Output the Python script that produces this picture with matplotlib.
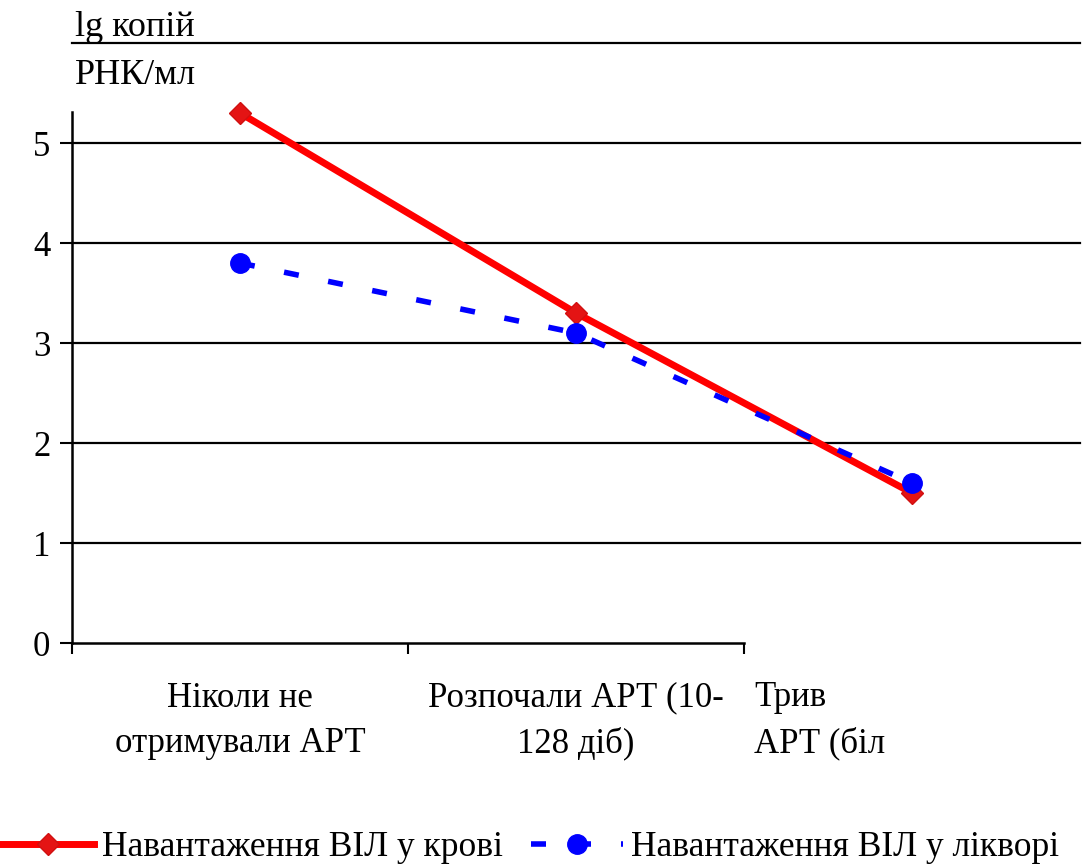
import matplotlib
matplotlib.use("Agg")
import matplotlib.pyplot as plt
from matplotlib.lines import Line2D

plt.rcParams['font.family'] = ['Liberation Serif', 'DejaVu Serif']

# data
categories = ["Ніколи не\nотримували АРТ", "Розпочали АРТ (10-\n128 діб)", "Трив\nАРТ (біл"]
blood = [5.3, 3.3, 1.5]
csf = [3.8, 3.1, 1.6]
yticks = [0, 1, 2, 3, 4, 5]
series_names = ["Навантаження ВІЛ у крові", "Навантаження ВІЛ у лікворі"]
ytitle = ["lg копій", "РНК/мл"]

W, H = 1092, 866
FS = 25
fig = plt.figure(figsize=(W / 100, H / 100), dpi=100)
ax = fig.add_axes([72 / W, 1 - 643 / H, (1080 - 72) / W, 600 / H])

x = list(range(len(categories)))
ax.set_xlim(-0.5, 2.5)
ax.set_ylim(0, 6)

# gridlines (incl. the one at 6 that underlines the title)
for g in [1, 2, 3, 4, 5, 6]:
    ax.axhline(g, color="black", lw=1.6, zorder=1, clip_on=False)

dash = (0, (2.7, 5.4))
ax.plot(x, blood, color="#ff0000", lw=5, marker="D", ms=11,
        mfc="#e41414", mec="#d01010", zorder=3, solid_capstyle="butt")
ax.plot(x, csf, color="#0000ff", lw=4, ls=dash, marker="o", ms=14,
        mfc="#0000ff", mec="#0000ff", zorder=4, dash_capstyle="butt")

for s in ["top", "right"]:
    ax.spines[s].set_visible(False)
ax.spines["left"].set_bounds(0, 5.31)
ax.spines["bottom"].set_bounds(-0.5, 1.5)
for s in ["left", "bottom"]:
    ax.spines[s].set_linewidth(1.8)

ax.set_yticks(yticks)
ax.set_yticklabels([str(v) for v in yticks], fontsize=FS)
ax.tick_params(axis="y", length=8.5, width=1.5, pad=7)
ax.set_xticks([-0.5, 0.5, 1.5])
ax.set_xticklabels([])
ax.tick_params(axis="x", length=8, width=1.5)

# category labels
for i, lab in enumerate(categories):
    if i < 2:
        ax.text(i, -0.78, lab, ha="center", va="center", fontsize=FS, linespacing=1.5)
    else:
        ax.text(1.53, -0.78, lab, ha="left", va="center", fontsize=FS, linespacing=1.5)

# y title
fig.text(75 / W, 1 - 28 / H, ytitle[0], ha="left", va="center", fontsize=26)
fig.text(75 / W, 1 - 75 / H, ytitle[1], ha="left", va="center", fontsize=26)

handles = [
    Line2D([], [], color="#ff0000", lw=5, marker="D", ms=11, mfc="#e41414", mec="#d01010"),
    Line2D([], [], color="#0000ff", lw=4, ls=dash, marker="o", ms=14),
]
fig.legend(handles, series_names, ncol=2, loc="center left",
           bbox_to_anchor=(2 / W, 1 - 848 / H), frameon=False, fontsize=25.5,
           handlelength=2.6, handletextpad=0.22, columnspacing=0.8,
           borderpad=0, borderaxespad=0)

fig.savefig("out.png", dpi=100)
